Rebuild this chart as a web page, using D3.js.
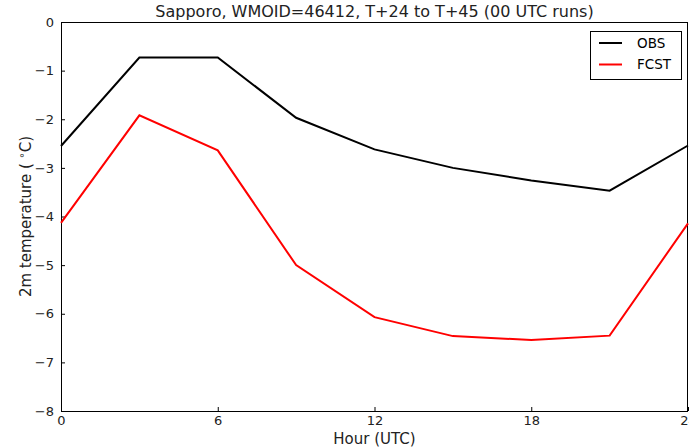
<!DOCTYPE html>
<html>
<head>
<meta charset="utf-8">
<script src="https://cdn.jsdelivr.net/npm/d3@7"></script>
<style>
  body { margin: 0; background: #fff; }
  svg { display: block; font-family: "DejaVu Sans", sans-serif; }
</style>
</head>
<body>
<svg id="chart" width="689" height="448"></svg>
<script>
// hours of day (UTC) and mean temperatures
const hours = [0, 3, 6, 9, 12, 15, 18, 21, 24];
const obs = [-2.55, -0.73, -0.73, -1.97, -2.62, -3.0, -3.26, -3.47, -2.54];
const fcst = [-4.13, -1.92, -2.64, -5.0, -6.07, -6.46, -6.54, -6.45, -4.14];
const xTicks = [0, 6, 12, 18, 24];
const yTicks = [0, -1, -2, -3, -4, -5, -6, -7, -8];

const series = [
  { name: "OBS", values: obs, color: "#000000" },
  { name: "FCST", values: fcst, color: "#ff0000" }
];

let width = 689, height = 448;
let margin = { top: 22, right: 1, bottom: 37, left: 61 };

let svg = d3.select("#chart");

let x = d3.scaleLinear()
    .domain([0, 24])
    .range([margin.left, width - margin.right]);

let y = d3.scaleLinear()
    .domain([-8, 0])
    .range([height - margin.bottom, margin.top]);

let fmt = d => d < 0 ? "\u2212" + Math.abs(d) : String(d);

// axes, ticks point inward like the classic matplotlib look
let xAxis = svg.append("g")
    .attr("transform", "translate(0," + (height - margin.bottom) + ")")
    .call(d3.axisBottom(x).tickValues(xTicks).tickSize(-4).tickPadding(5).tickFormat(fmt));

let yAxis = svg.append("g")
    .attr("transform", "translate(" + margin.left + ",0)")
    .call(d3.axisLeft(y).tickValues(yTicks).tickSize(-4).tickPadding(7).tickFormat(fmt));

[xAxis, yAxis].forEach(g => {
    g.select(".domain").remove();
    g.selectAll(".tick line").attr("stroke", "#000");
    g.selectAll(".tick text").attr("font-size", 13).attr("fill", "#222")
        .attr("font-family", "DejaVu Sans, sans-serif");
});
xAxis.selectAll(".tick text").attr("dy", "0.71em");

// frame
svg.append("rect")
    .attr("x", margin.left + 0.5)
    .attr("y", margin.top + 0.5)
    .attr("width", width - margin.left - margin.right - 1)
    .attr("height", height - margin.top - margin.bottom)
    .attr("fill", "none")
    .attr("stroke", "#000");

let line = d3.line()
    .x((d, i) => x(hours[i]))
    .y(d => y(d));

svg.selectAll(".series")
    .data(series)
    .enter()
    .append("path")
    .attr("class", "series")
    .attr("d", d => line(d.values))
    .attr("fill", "none")
    .attr("stroke", d => d.color)
    .attr("stroke-width", 2);

// legend
let legend = svg.append("g").attr("transform", "translate(590,31)");
legend.append("rect")
    .attr("x", 0.5).attr("y", 0.5)
    .attr("width", 91).attr("height", 48)
    .attr("fill", "#fff").attr("stroke", "#000");
series.forEach((s, i) => {
    legend.append("line")
        .attr("x1", 9).attr("x2", 32)
        .attr("y1", 12 + i * 21.5).attr("y2", 12 + i * 21.5)
        .attr("stroke", s.color).attr("stroke-width", 2);
    legend.append("text")
        .attr("x", 47).attr("y", 12 + i * 21.5)
        .attr("dy", "0.35em")
        .attr("font-size", 13.5).attr("fill", "#000")
        .text(s.name);
});

// title and labels
svg.append("text")
    .attr("x", (margin.left + width - margin.right) / 2)
    .attr("y", 17)
    .attr("text-anchor", "middle")
    .attr("font-size", 16)
    .attr("fill", "#222")
    .text("Sapporo, WMOID=46412, T+24 to T+45 (00 UTC runs)");

svg.append("text")
    .attr("x", (margin.left + width - margin.right) / 2)
    .attr("y", 444)
    .attr("text-anchor", "middle")
    .attr("font-size", 15)
    .attr("fill", "#222")
    .text("Hour (UTC)");

let ylab = svg.append("text")
    .attr("transform", "translate(31," + ((margin.top + height - margin.bottom) / 2) + ") rotate(-90)")
    .attr("text-anchor", "middle")
    .attr("font-size", 15)
    .attr("fill", "#222");
ylab.append("tspan").text("2m temperature ( ");
ylab.append("tspan").attr("dy", -6).attr("font-size", 10).text("\u2218");
ylab.append("tspan").attr("dy", 6).text("C)");
</script>
</body>
</html>
